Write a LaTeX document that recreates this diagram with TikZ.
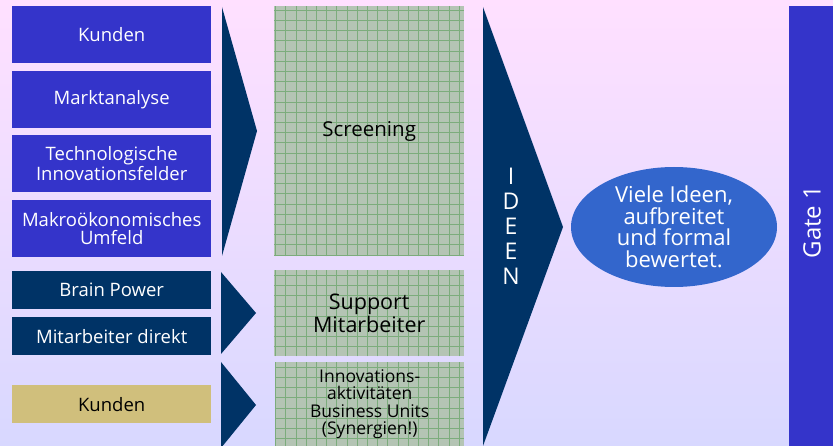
\documentclass[tikz,border=0pt]{standalone}
\usepackage{fontspec}
\setmainfont{Open Sans}
\usetikzlibrary{shapes.geometric}
\definecolor{boxblue}{HTML}{3434CA}
\definecolor{navy}{HTML}{003366}
\definecolor{sand}{HTML}{D0BF7C}
\definecolor{gridfill}{HTML}{B4C4B4}
\definecolor{gridline}{HTML}{7CAC7C}
\definecolor{ideablue}{HTML}{3366CC}
\definecolor{bgtop}{HTML}{FFE0FF}
\definecolor{bgbottom}{HTML}{D8D8FF}
\begin{document}
\begin{tikzpicture}[x=1pt, y=-1pt]
    \tikzset{
        source/.style={rectangle, anchor=north west, inner sep=0pt, minimum width=199pt, align=center, text=white, font=\fontsize{18.5}{17.5}\selectfont},
        gridbox/.style={rectangle, anchor=north west, inner sep=0pt, fill=gridfill},
        chevron/.style={fill=navy}
    }
    \shade[top color=bgtop, bottom color=bgbottom] (0,0) rectangle (833,446);
    \useasboundingbox (0,0) rectangle (833,446);

    \node[source, fill=boxblue, minimum height=57pt] (kunden) at (12,6) {Kunden};
    \node[source, fill=boxblue, minimum height=57pt] (markt) at (12,71) {Marktanalyse};
    \node[source, fill=boxblue, minimum height=57pt] (techno) at (12,135) {Technologische\\Innovationsfelder};
    \node[source, fill=boxblue, minimum height=57pt] (makro) at (12,200) {Makroökonomisches\\Umfeld};
    \node[source, fill=navy, minimum height=38pt] (brain) at (12,271) {Brain Power};
    \node[source, fill=navy, minimum height=38pt] (mitarb) at (12,317) {Mitarbeiter direkt};
    \node[source, fill=sand, minimum height=38pt, text=black] (kundenb) at (12,385) {Kunden};

    \fill[chevron] (222,7) -- (257,131) -- (222,256) -- cycle;
    \fill[chevron] (221,272) -- (256,313) -- (221,354) -- cycle;
    \fill[chevron] (221,362) -- (256,405) -- (221,448) -- cycle;

    \node[gridbox, minimum width=190pt, minimum height=250pt] (screen) at (274,6) {};
    \node[gridbox, minimum width=190pt, minimum height=86pt] (support) at (274,270) {};
    \node[gridbox, minimum width=189pt, minimum height=84pt] (innov) at (275,362) {};
    \foreach \gbox in {screen, support, innov} {
        \begin{scope}
            \clip (\gbox.north west) rectangle (\gbox.south east);
            \draw[gridline, line width=0.6pt, step=10.2pt] (\gbox.north west) grid (\gbox.south east);
        \end{scope}
    }
    \node[font=\fontsize{20.5}{20}\selectfont] (screentxt) at (screen) {Screening};
    \node[font=\fontsize{21.5}{20.5}\selectfont, align=center] (supporttxt) at (support) {Support\\Mitarbeiter};
    \node[font=\fontsize{17.5}{17.5}\selectfont, align=center] (innovtxt) at (innov) {Innovations-\\aktivitäten\\Business Units\\(Synergien!)};

    \fill[chevron] (483,7) -- (563,227) -- (483,446) -- cycle;
    \node[text=white, align=center, font=\fontsize{23}{25}\selectfont] (ideen) at (511,226) {I\\D\\E\\E\\N};

    \node[ellipse, fill=ideablue, minimum width=206pt, minimum height=120pt, inner sep=0pt] (ideas) at (674,227) {};
    \node[text=white, align=center, font=\fontsize{22}{21.5}\selectfont] (ideastxt) at (ideas) {Viele Ideen,\\aufbreitet\\und formal\\bewertet.};

    \node[rectangle, anchor=north west, inner sep=0pt, fill=boxblue, minimum width=44pt, minimum height=440pt] (gate) at (789,6) {};
    \node[rotate=90, text=white, font=\fontsize{24}{24}\selectfont] (gatetxt) at (812,222) {Gate 1};
\end{tikzpicture}
\end{document}
